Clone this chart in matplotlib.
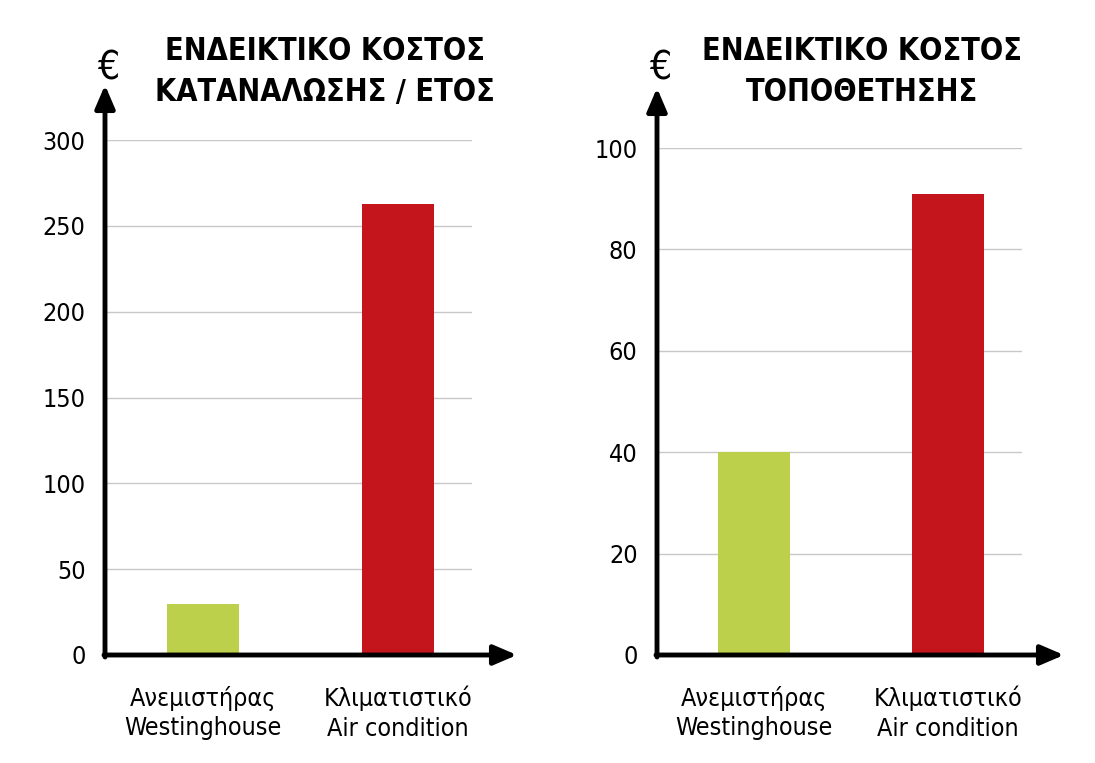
import matplotlib.pyplot as plt
from matplotlib import font_manager

categories = ["Ανεμιστήρας\nWestinghouse", "Κλιματιστικό\nAir condition"]
consumption = [30, 263]
installation = [40, 91]
bar_colors = ["#bcd04c", "#c4151c"]

names = {f.name for f in font_manager.fontManager.ttflist}
fam = "Liberation Sans Narrow" if "Liberation Sans Narrow" in names else "DejaVu Sans"
plt.rcParams["font.family"] = fam
plt.rcParams["font.stretch"] = "condensed"

W, H = 1095, 763
fig = plt.figure(figsize=(W / 100, H / 100), dpi=100)


def px(x, y):
    return x / W, 1 - y / H


def panel(x0, x1, ytop, ymax, step, vals, title, xleft, xright, arrow_top, arrow_right, title_x):
    l, b = px(x0, 655)
    _, t = px(x0, ytop)
    ax = fig.add_axes([l, b, (x1 - x0) / W, t - b])
    ax.bar([0, 1], vals, width=0.37, color=bar_colors, zorder=2)
    ax.set_xlim(xleft, xright)
    ax.set_ylim(0, ymax)
    ax.set_yticks(range(0, ymax + 1, step))
    ax.yaxis.grid(True, color="#c8c8c8", lw=1, zorder=0)
    ax.set_xticks([0, 1])
    ax.set_xticklabels(categories, fontsize=18, linespacing=1.3)
    ax.tick_params(axis="both", length=0, labelsize=18, pad=14)
    ax.tick_params(axis="x", pad=22)
    for s in ax.spines.values():
        s.set_visible(False)
    ax.set_facecolor("none")
    # axes arrows
    ax.annotate("", xy=px(x0, arrow_top), xytext=px(x0, 657), xycoords="figure fraction",
                arrowprops=dict(arrowstyle="-|>,head_length=1.4,head_width=0.6", lw=3.5, color="black",
                                shrinkA=0, shrinkB=0))
    ax.annotate("", xy=px(arrow_right, 655), xytext=px(x0 - 1, 655), xycoords="figure fraction",
                arrowprops=dict(arrowstyle="-|>,head_length=1.4,head_width=0.6", lw=3.5, color="black",
                                shrinkA=0, shrinkB=0))
    fig.text(*px(x0 + 3, 68), "€", fontsize=28, ha="center", va="center")
    fig.text(*px(title_x, 72), title, fontsize=22, fontweight="bold", ha="center", va="center",
             linespacing=1.55)
    return ax


panel(105, 472, 140, 300, 50, consumption, "ΕΝΔΕΙΚΤΙΚΟ ΚΟΣΤΟΣ\nΚΑΤΑΝΑΛΩΣΗΣ / ΕΤΟΣ",
      -0.503, 1.379, 85, 517, 325)
panel(657, 1022, 148, 100, 20, installation, "ΕΝΔΕΙΚΤΙΚΟ ΚΟΣΤΟΣ\nΤΟΠΟΘΕΤΗΣΗΣ",
      -0.5, 1.381, 88, 1064, 862)

fig.savefig("out.png", dpi=100)
